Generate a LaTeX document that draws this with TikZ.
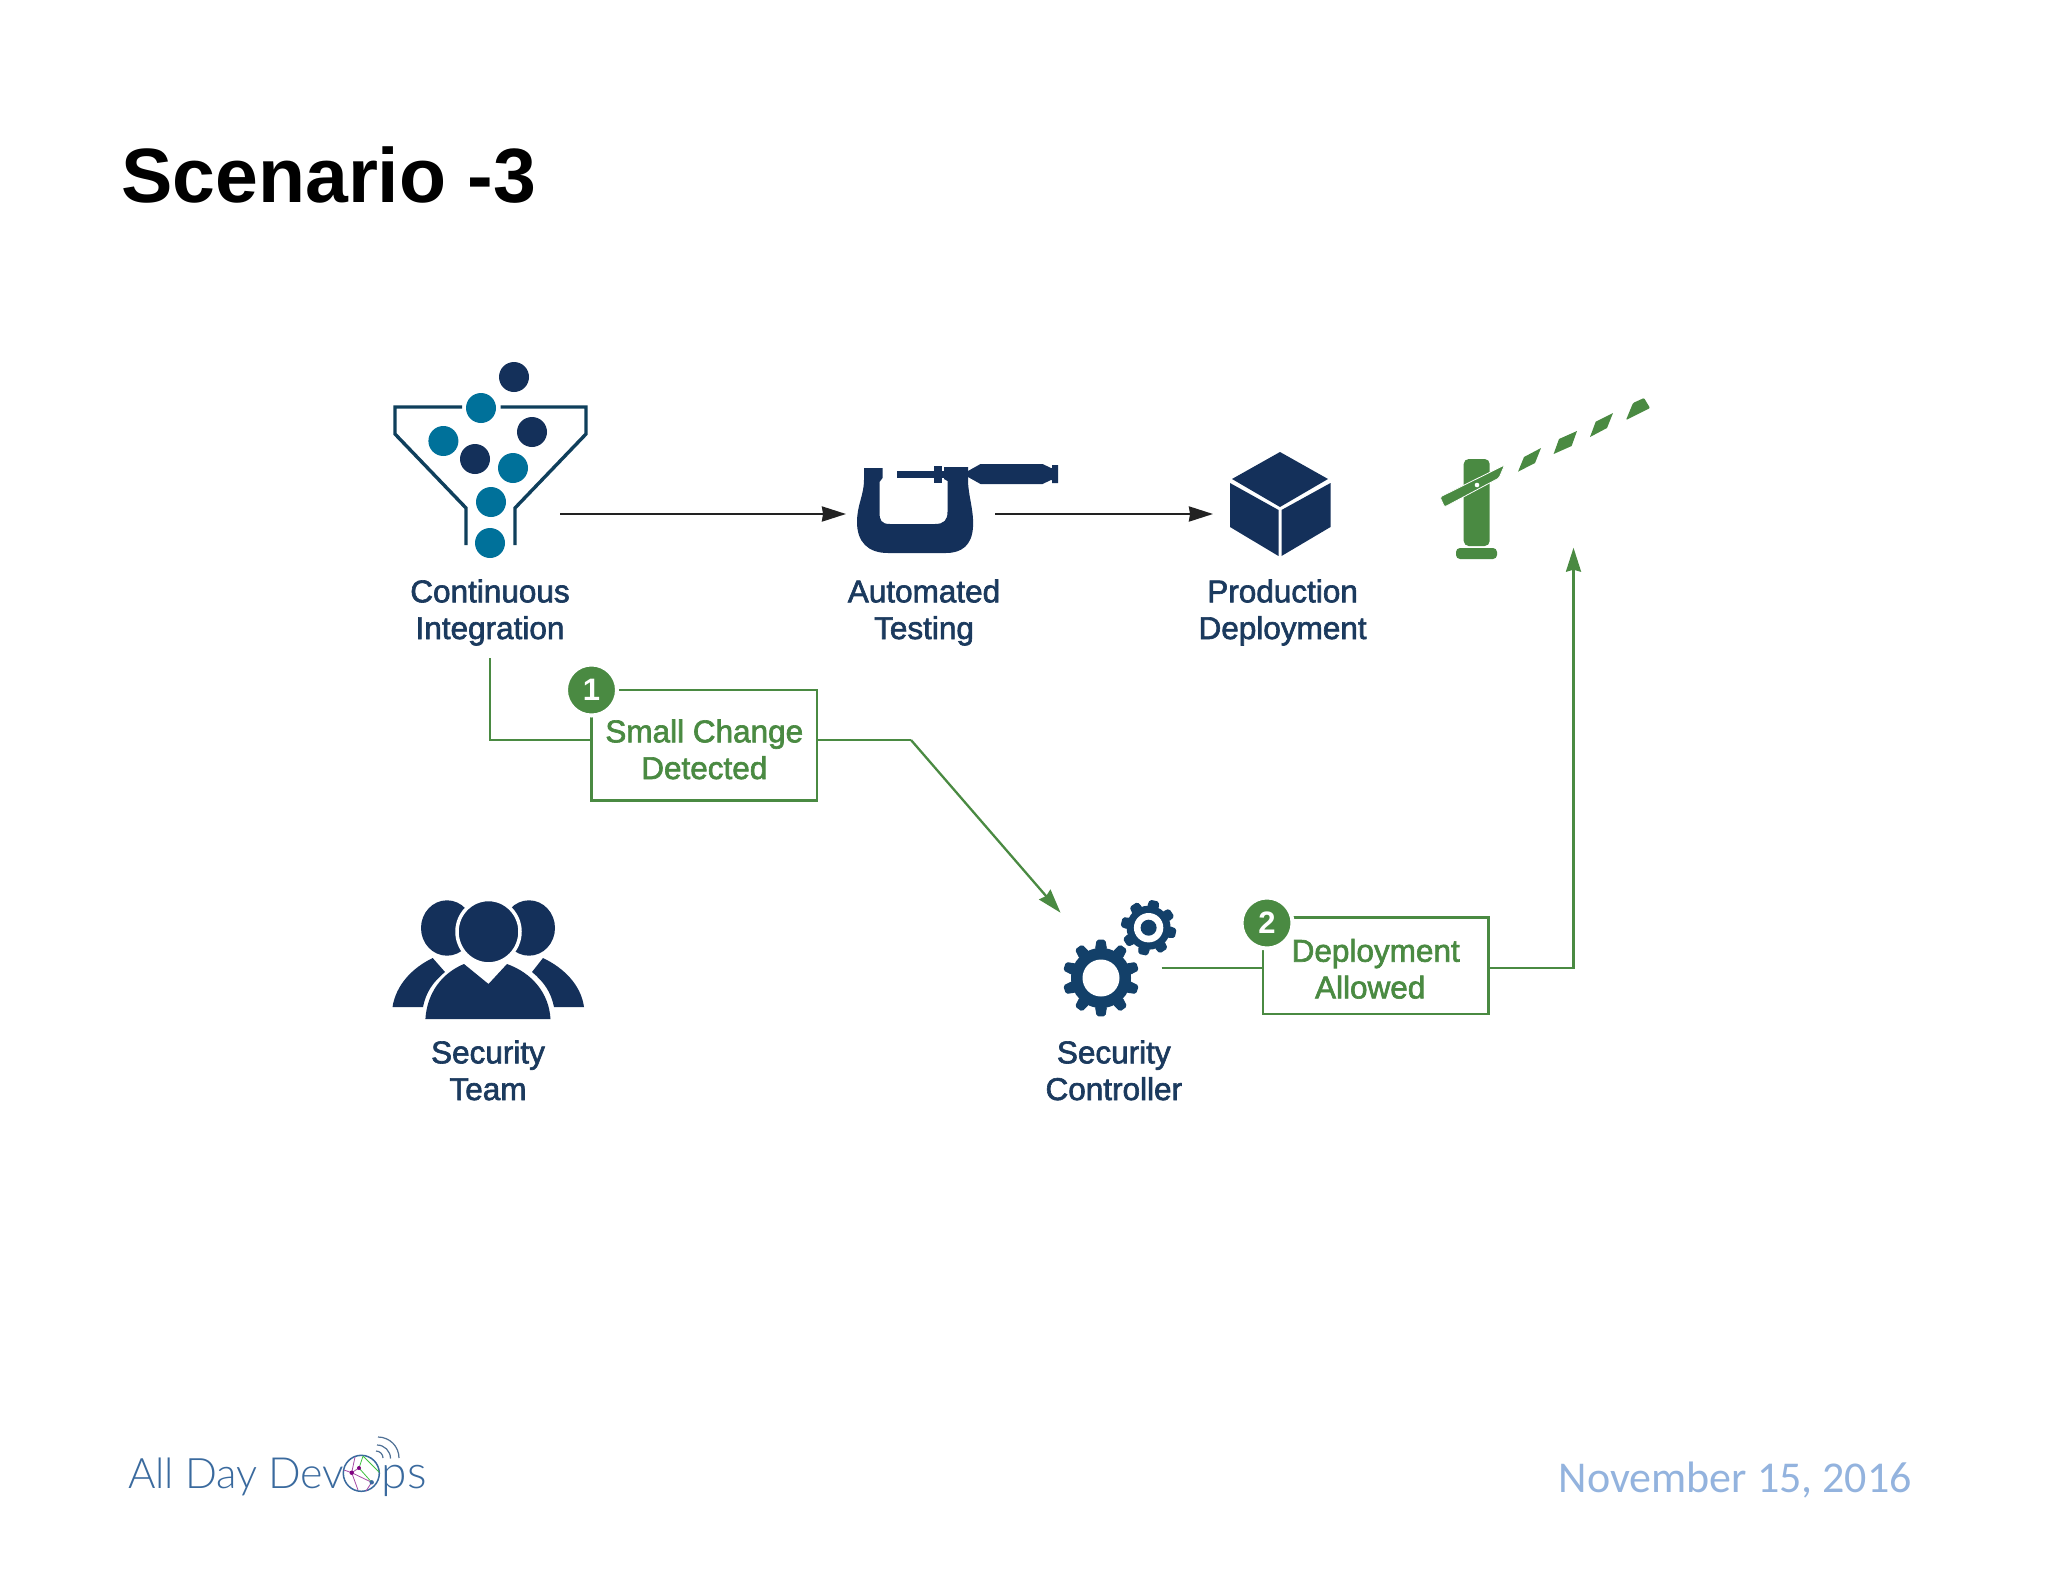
\documentclass[tikz,border=0pt]{standalone}
\usepackage{fontspec}
\usetikzlibrary{arrows.meta,calc}
\setmainfont{Liberation Sans}
\newfontfamily\labfont[FakeBold=2]{Liberation Sans}
\newfontfamily\logofont{Lato Light}
\newfontfamily\datefont{Carlito}
\definecolor{navy}{HTML}{14305A}
\definecolor{teal}{HTML}{00719A}
\definecolor{funnelc}{HTML}{0F3F5C}
\definecolor{gearc}{HTML}{134069}
\definecolor{gr}{HTML}{4A8A42}
\definecolor{labc}{HTML}{1B3A5E}
\definecolor{dark}{HTML}{222222}
\definecolor{logoc}{HTML}{3A6A9E}
\definecolor{datec}{HTML}{93B3DE}
\tikzset{
  lab/.style={font=\labfont\fontsize{31.5}{36.7}\selectfont,text=labc,align=center,inner sep=0pt,anchor=base},
  glab/.style={font=\labfont\fontsize{31.5}{36.7}\selectfont,text=gr,align=center,inner sep=0pt},
  gbox/.style={draw=gr,line width=2.5pt,fill=white,rectangle},
  gline/.style={draw=gr,line width=2.3pt},
  garrow/.style={gline,-{Stealth[length=24pt,width=15pt,inset=2pt]}},
  karrow/.style={draw=dark,line width=2.3pt,-{Stealth[length=24pt,width=15pt,inset=1pt]}},
  ball/.style={circle,minimum size=30pt,inner sep=0pt},
  badge/.style={circle,fill=gr,draw=white,line width=4pt,minimum size=51pt,inner sep=0pt,text=white,font=\fontsize{31}{31}\selectfont\bfseries},
  logotext/.style={text=logoc,anchor=base west,inner sep=0pt},
}
\newcommand{\drawgear}[9]{% x y bodyr outerr teeth db dt rot color
  \begin{scope}[shift={(#1,#2)}]
    \fill[#9] (0,0) circle (#3);
    \foreach \i in {1,...,#5}{
      \pgfmathsetmacro{\aa}{#8+\i*360/#5}
      \fill[#9,draw=#9,line width=1pt,line join=round,rounded corners=1.5pt]
        (\aa-#6:#3-1) -- (\aa-#7:#4-1) -- (\aa+#7:#4-1) -- (\aa+#6:#3-1) -- cycle;
    }
  \end{scope}
}
\begin{document}
\begin{tikzpicture}[x=1pt,y=-1pt]
\useasboundingbox (0,0) rectangle (2048,1582);
\fill[white] (0,0) rectangle (2048,1582);

\node[font=\fontsize{77}{77}\selectfont\bfseries,anchor=base west,inner sep=0pt] (title) at (121,202) {Scenario -3};

% funnel
\draw[funnelc,line width=3.4pt,line join=miter] (462,407) -- (395,407) -- (395,434) -- (466,508) -- (466,545);
\draw[funnelc,line width=3.4pt,line join=miter] (500.6,407) -- (586,407) -- (586,434) -- (515,508) -- (515,545);
\foreach \n/\x/\y/\c in {b1/514/377/navy,b2/481/408/teal,b3/443.4/441/teal,b4/532/432/navy,b5/475/459/navy,b6/513/468/teal,b7/491/502/teal,b8/490/543/teal}
  \node[ball,fill=\c] (\n) at (\x,\y) {};

% micrometer
\fill[navy] (864,468) -- (882.5,468) -- (882.5,478) -- (879.5,482) -- (879.5,512)
  .. controls (879.5,520) and (881,524) .. (890,524) -- (935,524)
  .. controls (944,524) and (947.5,520) .. (947.5,512) -- (947.5,481) -- (944,479) -- (944,467) -- (968,467) -- (968,480)
  .. controls (968,495) and (974,510) .. (973,527)
  .. controls (972,545) and (962,553) .. (946,553) -- (888,553)
  .. controls (868,553) and (857,542) .. (857,522)
  .. controls (857,505) and (864,495) .. (864,480) -- cycle;
\fill[navy] (897,471) rectangle (936,478);
\fill[navy] (934,466) rectangle (941.6,483);
\fill[navy] (941,471) rectangle (968,478);
\fill[navy] (968,471) -- (980.5,464) -- (1042.5,464) -- (1051,468) -- (1052,468) -- (1052,465) -- (1058,465) -- (1058,483) -- (1052,483) -- (1052,480) -- (1051,480) -- (1042.5,484) -- (980.5,484) -- (968,477) -- cycle;

% cube
\fill[navy] (1280,452) -- (1328,479) -- (1280,507) -- (1232,479) -- cycle;
\fill[navy] (1230,483) -- (1278.5,510) -- (1278.5,556) -- (1230,527) -- cycle;
\fill[navy] (1281.5,510) -- (1330.5,483) -- (1330.5,527) -- (1281.5,556) -- cycle;

% barrier
\fill[gr,rounded corners=5pt] (1463.7,459) rectangle (1489.7,546);
\fill[gr,rounded corners=4pt] (1456,548) rectangle (1497,559);
\filldraw[fill=gr,draw=white,line width=0.8pt,rounded corners=1.5pt] (1440,497) -- (1504.6,465) -- (1499,478) -- (1444.5,507) -- cycle;
\fill[white] (1477,485) circle (2.3);
\fill[gr] (1518,471.7) -- (1524,457) -- (1541,448) -- (1535,463) -- cycle;
\fill[gr] (1553.6,454) -- (1559,439) -- (1577,431) -- (1571.6,446) -- cycle;
\fill[gr] (1590,437) -- (1595.7,421.7) -- (1613,413) -- (1607,428) -- cycle;
\fill[gr,rounded corners=1pt] (1626,420) -- (1633,403) -- (1644,398) -- (1650,408) -- cycle;

% top labels
\node[lab] (ci) at (490,639) {Continuous\\Integration};
\node[lab] (at) at (924,639) {Automated\\Testing};
\node[lab] (pd) at (1282.6,639) {Production\\Deployment};

% top arrows
\coordinate (a1s) at (560,514);
\coordinate (a1e) at (846,514);
\coordinate (a2s) at (995,514);
\coordinate (a2e) at (1213,514);
\draw[karrow] (a1s) -- (a1e);
\draw[karrow] (a2s) -- (a2e);

% green connectors
\coordinate (ciout) at (490,658);
\coordinate (b1in) at (592,740);
\coordinate (b1out) at (817,740);
\coordinate (bend) at (911,740);
\coordinate (sctip) at (1060.5,912.7);
\coordinate (scout) at (1161.6,968);
\coordinate (b2in) at (1263,968);
\coordinate (b2out) at (1488.4,968);
\coordinate (corner) at (1573.5,968);
\coordinate (gatetip) at (1573.5,547.7);
\draw[gline] (ciout) |- (b1in);
\draw[gline] (b1out) -- (bend);
\draw[garrow] (bend) -- (sctip);
\draw[gline] (scout) -- (b2in);
\draw[garrow] (b2out) -- (corner) -- (gatetip);

% boxes
\node[gbox,glab,minimum width=225.3pt,minimum height=110.7pt] (box1) at (704.3,745.3) {\rule{0pt}{31pt}Small Change\\Detected};
\node[gbox,glab,minimum width=225.4pt,minimum height=96.7pt] (box2) at (1375.7,965.7) {\rule{0pt}{29pt}Deployment\\Allowed\hspace*{11pt}};
\node[badge] (n1) at (591.5,690) {1};
\node[badge] (n2) at (1267,923) {2};

% team
\fill[navy] (447,928) ellipse (26 and 27.7);
\fill[navy] (529,928) ellipse (26 and 27.7);
\fill[navy] (392.5,1007) .. controls (396,985) and (412,968) .. (432.7,958) -- (445,972) .. controls (433,982) and (426,992) .. (423,1007) -- cycle;
\fill[navy] (584,1007) .. controls (581,985) and (564,968) .. (543,958) -- (532,972) .. controls (544,982) and (551,992) .. (554,1007) -- cycle;
\filldraw[fill=navy,draw=white,line width=3.5pt] (488.5,931.7) ellipse (31.5 and 32.2);
\fill[navy] (425.4,1019) .. controls (427,993) and (442,973) .. (464,964) -- (488.5,984) -- (507,964) .. controls (532,973) and (549,993) .. (550.5,1019) -- cycle;
\node[lab] (st) at (488,1100) {Security\\Team};

% gears
\drawgear{1101}{978}{30}{39}{10}{11}{6}{90}{gearc}
\fill[white] (1101,978) circle (18.5);
\drawgear{1148.6}{927.7}{22}{28.5}{8}{15}{9}{12}{gearc}
\fill[white] (1148.6,927.7) circle (14.7);
\fill[gearc] (1148.6,927.7) circle (8);
\node[lab] (sc) at (1113.8,1100) {Security\\Controller};

% logo
\node[logotext,font=\logofont\fontsize{42}{42}\selectfont] (logo1) at (128,1488) {All Day};
\node[logotext,font=\logofont\fontsize{43}{43}\selectfont] (logo3) at (268,1488) {Dev};
\node[logotext,font=\logofont\fontsize{46}{46}\selectfont] (logo2) at (381.7,1488) {ps};
\draw[logoc,line width=1.5pt] (361.3,1473.3) circle (18);
\draw[green!50!gray,line width=0.8pt] (363,1456) -- (379,1472) (363,1456) -- (359,1468) -- (371.7,1482.3);
\draw[violet!70!white,line width=0.8pt] (351.7,1472.7) -- (359,1468) (344,1470) -- (351.7,1472.7) -- (371.7,1482.3) -- (366,1491) (351.7,1472.7) -- (358,1490) (351.7,1472.7) -- (355,1457);
\fill[violet] (351.7,1472.7) circle (2.2) (359,1468) circle (2);
\fill[logoc] (371.7,1482.3) circle (2.2);
\draw[logoc!70!gray,line width=1.2pt] (378,1437) arc (-90:0:21) (377,1445) arc (-90:0:13.5) (376,1451) arc (-90:0:7);

% date
\node[font=\datefont\fontsize{44}{44}\selectfont,text=datec,anchor=base east,inner sep=0pt] (date) at (1912,1492) {November 15, 2016};
\end{tikzpicture}
\end{document}
